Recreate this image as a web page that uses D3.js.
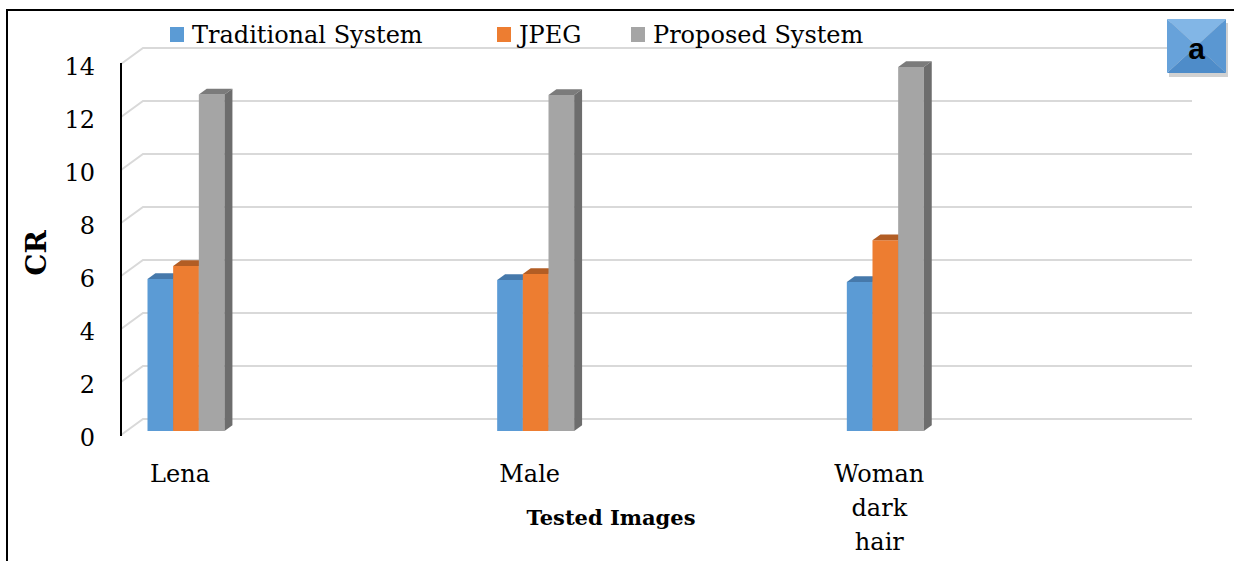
<!DOCTYPE html>
<html>

<head>
  <title>CR by tested image</title>
  <style>
    body,
    html {
      margin: 0;
      padding: 0;
      background: #fff;
    }

    text {
      font-family: "DejaVu Serif", serif;
    }
  </style>
</head>

<body>
  <svg id="svg" width="1234" height="561"></svg>

  <script src="https://d3js.org/d3.v7.min.js"></script>
  <script>
    const categories = ["Lena", "Male", "Woman dark hair"]
    const seriesNames = ["Traditional System", "JPEG", "Proposed System"]
    const traditional = [5.74, 5.7, 5.62]
    const jpeg = [6.23, 5.92, 7.2]
    const proposed = [12.7, 12.68, 13.74]
    const yTicks = [0, 2, 4, 6, 8, 10, 12, 14]

    const colors = ["#5b9bd5", "#ed7d31", "#a5a5a5"]
    const topColors = ["#4679ab", "#b25d24", "#7b7b7b"]
    const sideColors = ["#3f6e9c", "#a65620", "#6d6d6d"]

    const values = [traditional, jpeg, proposed]

    const svg = d3.select("#svg")

    // 3D projection: front plane at x=121, floor at y=435; depth shifts right/up
    const frontX = 121, floorY = 435, depthX = 22, depthY = 16
    const planeW = 1049

    const x0 = d3.scaleBand().domain(categories).range([0, planeW])
    const x1 = d3.scaleBand().domain(seriesNames).range([21, 98])
    const y = d3.scaleLinear().domain([0, 14]).range([0, 371])

    function px(u, d) { return frontX + u + d * depthX }
    function py(v, d) { return floorY - y(v) - d * depthY }

    // frame
    svg.append("path")
      .attr("d", "M7,561 L7,10 L1234,10")
      .attr("fill", "none")
      .attr("stroke", "#000")
      .attr("stroke-width", 2)

    // gridlines on back wall + side wall
    const grid = svg.append("g").attr("stroke", "#d9d9d9").attr("stroke-width", 2).attr("fill", "none")
    yTicks.forEach(t => {
      grid.append("path")
        .attr("d", `M${px(0, 0)},${py(t, 0)} L${px(0, 1)},${py(t, 1)} L${px(planeW, 1)},${py(t, 1)}`)
    })

    // left axis
    svg.append("line")
      .attr("x1", frontX).attr("x2", frontX)
      .attr("y1", py(14, 0) - 1).attr("y2", py(0, 0) + 1)
      .attr("stroke", "#000").attr("stroke-width", 2)

    // tick labels
    svg.append("g").selectAll("text")
      .data(yTicks)
      .join("text")
      .attr("x", 95)
      .attr("y", d => py(d, 0) + 3)
      .attr("text-anchor", "end")
      .attr("dominant-baseline", "central")
      .attr("font-size", 24)
      .text(d => d)

    // bars
    const dFront = 0.25, dBack = 0.61
    const bars = svg.append("g")
    categories.forEach((c, ci) => {
      seriesNames.forEach((s, si) => {
        const v = values[si][ci]
        const u0 = x0(c) + x1(s), u1 = u0 + x1.bandwidth()
        const g = bars.append("g")
        // front face
        g.append("path")
          .attr("d", `M${px(u0, dFront)},${py(0, dFront)} L${px(u0, dFront)},${py(v, dFront)} L${px(u1, dFront)},${py(v, dFront)} L${px(u1, dFront)},${py(0, dFront)}Z`)
          .attr("fill", colors[si])
        // top
        g.append("path")
          .attr("d", `M${px(u0, dFront)},${py(v, dFront)} L${px(u0, dBack)},${py(v, dBack)} L${px(u1, dBack)},${py(v, dBack)} L${px(u1, dFront)},${py(v, dFront)}Z`)
          .attr("fill", topColors[si])
        // side
        g.append("path")
          .attr("d", `M${px(u1, dFront)},${py(0, dFront)} L${px(u1, dFront)},${py(v, dFront)} L${px(u1, dBack)},${py(v, dBack)} L${px(u1, dBack)},${py(0, dBack)}Z`)
          .attr("fill", sideColors[si])
      })
    })

    // category labels
    const catLabels = svg.append("g")
    categories.forEach(c => {
      const words = c.split(" ")
      const lines = c === "Woman dark hair" ? words : [c]
      const t = catLabels.append("text")
        .attr("x", frontX + x0(c) + 59)
        .attr("y", 482)
        .attr("text-anchor", "middle")
        .attr("font-size", 24)
      lines.forEach((w, i) => {
        t.append("tspan")
          .attr("x", frontX + x0(c) + 59)
          .attr("dy", i === 0 ? 0 : 34)
          .text(w)
      })
    })

    // axis titles
    svg.append("text")
      .attr("x", 611)
      .attr("y", 525)
      .attr("text-anchor", "middle")
      .attr("font-size", 21)
      .attr("font-weight", "bold")
      .text("Tested Images")

    svg.append("text")
      .attr("transform", "translate(46,253) rotate(-90)")
      .attr("text-anchor", "middle")
      .attr("font-size", 28)
      .attr("font-weight", "bold")
      .text("CR")

    // legend
    const legendX = [170, 497, 631]
    const legend = svg.append("g")
    seriesNames.forEach((s, i) => {
      legend.append("rect")
        .attr("x", legendX[i]).attr("y", 27)
        .attr("width", 14).attr("height", 15)
        .attr("fill", colors[i])
      legend.append("text")
        .attr("x", legendX[i] + 22)
        .attr("y", 43)
        .attr("font-size", 24)
        .text(s)
    })

    // "a" badge
    const bx = 1167, by = 19, bw = 59, bh = 54
    const badge = svg.append("g")
    badge.append("rect")
      .attr("x", bx + 2).attr("y", by + 4)
      .attr("width", bw).attr("height", bh)
      .attr("fill", "#000").attr("opacity", 0.18)
    const cx = bx + bw / 2, cy = by + bh / 2
    const facets = [
      [[bx, by], [bx + bw, by], [cx, cy], "#82b6e6"],
      [[bx + bw, by], [bx + bw, by + bh], [cx, cy], "#5a97d2"],
      [[bx, by + bh], [bx + bw, by + bh], [cx, cy], "#4e8cc9"],
      [[bx, by], [bx, by + bh], [cx, cy], "#67a2da"]
    ]
    facets.forEach(f => {
      badge.append("path")
        .attr("d", `M${f[0][0]},${f[0][1]} L${f[1][0]},${f[1][1]} L${f[2][0]},${f[2][1]}Z`)
        .attr("fill", f[3])
    })
    badge.append("text")
      .attr("x", cx).attr("y", cy + 2)
      .attr("text-anchor", "middle")
      .attr("dominant-baseline", "central")
      .attr("style", "font-family: 'Liberation Sans', sans-serif")
      .attr("font-size", 30)
      .attr("font-weight", "bold")
      .text("a")
  </script>
</body>

</html>
